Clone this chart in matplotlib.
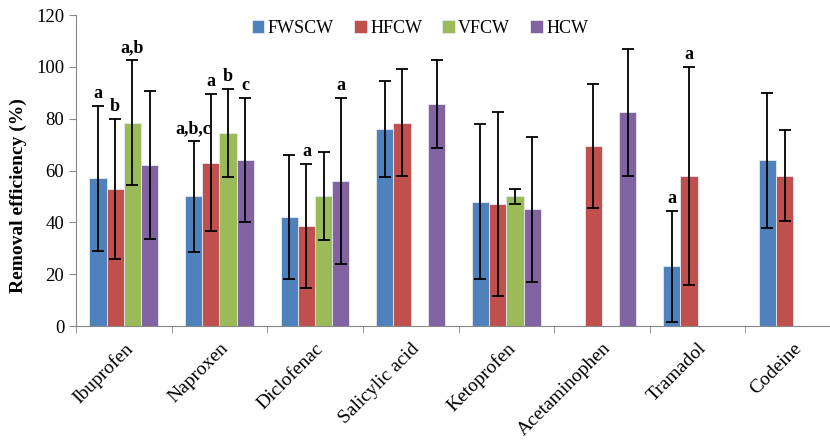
import numpy as np
import matplotlib.pyplot as plt

plt.rcParams['font.family'] = ['Liberation Serif', 'DejaVu Serif']

drugs = ['Ibuprofen', 'Naproxen', 'Diclofenac', 'Salicylic acid', 'Ketoprofen',
         'Acetaminophen', 'Tramadol', 'Codeine']
systems = ['FWSCW', 'HFCW', 'VFCW', 'HCW']
colors = ['#4F81BD', '#C0504D', '#9BBB59', '#8064A2']

# mean removal (%), nan = not measured
fwscw = [57, 50, 42, 76, 48, np.nan, 23, 64]
hfcw = [53, 63, 38.5, 78.5, 47, 69.5, 58, 58]
vfcw = [78.5, 74.5, 50, np.nan, 50, np.nan, np.nan, np.nan]
hcw = [62, 64, 56, 85.5, 45, 82.5, np.nan, np.nan]

# standard deviations
fwscw_sd = [28, 21.5, 24, 18.5, 30, np.nan, 21.5, 26]
hfcw_sd = [27, 26.5, 24, 20.5, 35.5, 24, 42, 17.5]
vfcw_sd = [24, 17, 17, np.nan, 3, np.nan, np.nan, np.nan]
hcw_sd = [28.5, 24, 32, 17, 28, 24.5, np.nan, np.nan]

# significance letters (drug index, system index, text)
letters = [(0, 0, 'a'), (0, 1, 'b'), (0, 2, 'a,b'),
           (1, 0, 'a,b,c'), (1, 1, 'a'), (1, 2, 'b'), (1, 3, 'c'),
           (2, 1, 'a'), (2, 3, 'a'),
           (6, 0, 'a'), (6, 1, 'a')]

means = [fwscw, hfcw, vfcw, hcw]
sds = [fwscw_sd, hfcw_sd, vfcw_sd, hcw_sd]

fig = plt.figure(figsize=(8.3, 4.4), dpi=100)
ax = fig.add_axes([76 / 830, 1 - 326 / 440, 765 / 830, (326 - 15) / 440])

x = np.arange(len(drugs))
w = 0.18
for i, (m, s) in enumerate(zip(means, sds)):
    pos = x + (i - 1.5) * w
    ax.bar(pos, m, w, color=colors[i], edgecolor='#e8e8f0', linewidth=0.6,
           label=systems[i], zorder=2)
    ax.errorbar(pos, m, yerr=s, fmt='none', ecolor='black', elinewidth=1.3,
                capsize=4, capthick=1.3, zorder=3)

for d, k, txt in letters:
    top = means[k][d] + sds[k][d]
    ax.text(d + (k - 1.5) * w, top + 1.5, txt, ha='center', va='bottom',
            fontsize=13, fontweight='bold')

ax.set_xlim(-0.5, len(drugs) - 0.5)
ax.set_ylim(0, 120)
ax.set_yticks(range(0, 121, 20))
ax.set_xticks(x)
ax.set_xticklabels(drugs, rotation=45, ha='right', rotation_mode='anchor',
                   fontsize=14)
ax.set_xticks(np.arange(-0.5, len(drugs), 1), minor=True)
ax.tick_params(axis='x', which='major', length=0, pad=10)
ax.tick_params(axis='x', which='minor', length=5, color='#888888')
ax.tick_params(axis='y', labelsize=13.5, length=5, color='#888888')
for side in ['top', 'right']:
    ax.spines[side].set_visible(False)
for side in ['left', 'bottom']:
    ax.spines[side].set_color('#888888')
ax.set_ylabel('Removal efficiency (%)', fontsize=14, fontweight='bold')
ax.yaxis.set_label_coords(-0.064, 0.42)

fig.legend(loc='center', bbox_to_anchor=(0.506, 0.936), ncol=4, frameon=False,
           fontsize=13, handlelength=0.7, handleheight=0.7, handletextpad=0.2,
           columnspacing=1.1)

fig.savefig('out.png', dpi=100)
